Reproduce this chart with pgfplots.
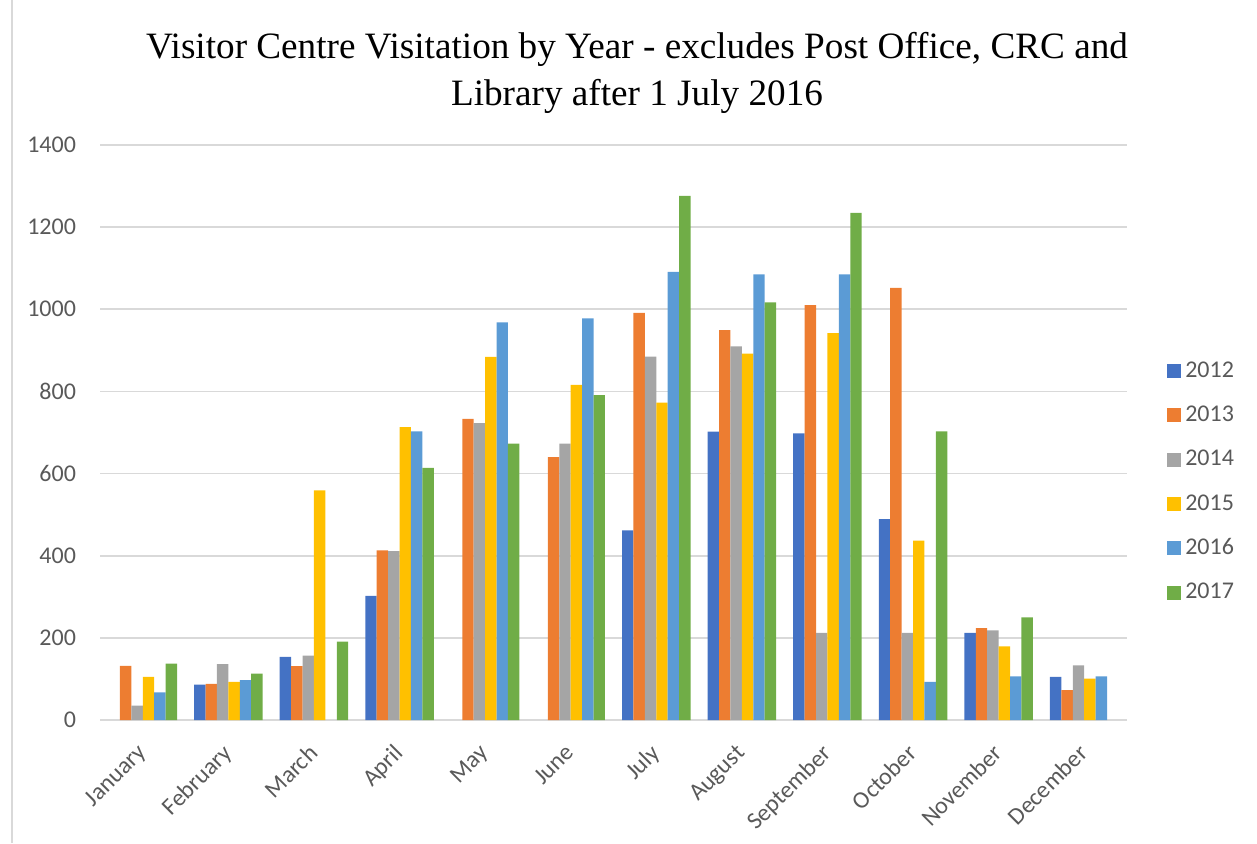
\documentclass[border=0pt]{standalone}
\usepackage{fontspec}
\setmainfont{Liberation Serif}
\newfontfamily\calib{Carlito}
\usepackage{pgfplots}
\pgfplotsset{compat=1.18}
\definecolor{c2012}{HTML}{4472C4}
\definecolor{c2013}{HTML}{ED7D31}
\definecolor{c2014}{HTML}{A5A5A5}
\definecolor{c2015}{HTML}{FFC000}
\definecolor{c2016}{HTML}{5B9BD5}
\definecolor{c2017}{HTML}{70AD47}
\definecolor{tickgray}{HTML}{595959}
\definecolor{gridgray}{HTML}{D9D9D9}
\begin{document}
\begin{tikzpicture}
\path[use as bounding box] (0,0) rectangle (628.5pt,421.5pt);
\draw[gridgray, line width=0.8pt] (6pt,0) -- (6pt,421.5pt);
\node[align=center, font=\fontsize{18.6pt}{23.5pt}\selectfont] at (318.5pt,385pt)
  {Visitor Centre Visitation by Year - excludes Post Office, CRC and\\Library after 1 July 2016};
\begin{axis}[
  at={(50pt,61.5pt)}, anchor=south west,
  scale only axis, width=513.5pt, height=287.5pt,
  ybar=0pt, bar width=0.1335,
  xmin=-0.5, xmax=11.5, ymin=0, ymax=1400,
  xtick={0,...,11},
  xticklabels={January,February,March,April,May,June,July,August,September,October,November,December},
  ytick={0,200,...,1400},
  axis line style={draw=none},
  major tick length=0pt,
  ymajorgrids, grid style={gridgray, line width=0.8pt},
  tick label style={font=\calib\fontsize{12pt}{14pt}\selectfont, text=tickgray},
  /pgf/number format/assume math mode=true,
  /pgf/number format/1000 sep={},
  yticklabel style={xshift=-8.5pt},
  xticklabel style={rotate=45, anchor=north east, inner sep=1pt, xshift=-9.4pt, yshift=-4.6pt},
  legend style={at={(1.033,0.414)}, anchor=west, draw=none, fill=none,
    font=\calib\fontsize{12pt}{14pt}\selectfont, text=tickgray,
    row sep=8.8pt, legend cell align=left},
  legend image code/.code={\fill[#1] (0pt,-3.5pt) rectangle (7pt,3.5pt);},
]
\addplot[fill=c2012, draw=none] coordinates {(1,86) (2,154) (3,302) (6,462) (7,702) (8,698) (9,489) (10,212) (11,105)};
\addplot[fill=c2013, draw=none] coordinates {(0,132) (1,88) (2,131) (3,413) (4,733) (5,640) (6,991) (7,949) (8,1010) (9,1052) (10,224) (11,73)};
\addplot[fill=c2014, draw=none] coordinates {(0,35) (1,136) (2,157) (3,411) (4,723) (5,673) (6,885) (7,910) (8,212) (9,212) (10,218) (11,133)};
\addplot[fill=c2015, draw=none] coordinates {(0,105) (1,93) (2,559) (3,713) (4,884) (5,816) (6,773) (7,892) (8,942) (9,437) (10,179) (11,101)};
\addplot[fill=c2016, draw=none] coordinates {(0,67) (1,97) (3,703) (4,968) (5,978) (6,1091) (7,1085) (8,1085) (9,93) (10,106) (11,106)};
\addplot[fill=c2017, draw=none] coordinates {(0,137) (1,113) (2,191) (3,614) (4,673) (5,791) (6,1276) (7,1017) (8,1235) (9,703) (10,250)};
\legend{2012,2013,2014,2015,2016,2017}
\end{axis}
\end{tikzpicture}
\end{document}
